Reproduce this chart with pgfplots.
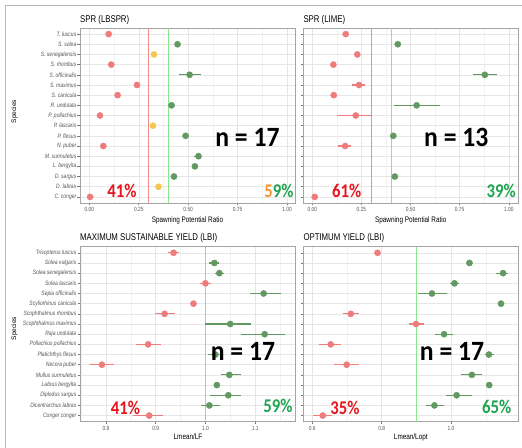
\documentclass[border=0pt]{standalone}
\usepackage{fontspec}
\setmainfont{Liberation Sans}
\newfontfamily\nar[FakeStretch=0.8]{Liberation Sans}
\newfontfamily\carl[FakeStretch=0.92]{Carlito}
\newfontfamily\carlp[FakeStretch=0.86]{Carlito}
\usepackage{pgfplots}
\pgfplotsset{compat=1.18}
\usepackage{pgfplotstable}
\definecolor{redpt}{RGB}{239,124,124}
\definecolor{greenpt}{RGB}{98,152,98}
\definecolor{yellowpt}{RGB}{243,200,82}
\definecolor{redline}{RGB}{240,140,140}
\definecolor{greenline}{RGB}{140,228,140}
\definecolor{pctred}{RGB}{230,22,30}
\definecolor{pctgreen}{RGB}{30,165,80}
\definecolor{pctorange}{RGB}{242,150,50}
\definecolor{gridmaj}{RGB}{230,230,230}
\definecolor{gridmin}{RGB}{242,242,242}
\definecolor{bordercol}{RGB}{165,165,165}
\definecolor{tickcol}{RGB}{120,120,120}
\definecolor{labcol}{RGB}{85,85,85}

\pgfplotstableread{
y x em ep
17 0.098 0 0
14 0.111 0 0
12 0.241 0 0
11 0.143 0 0
9 0.054 0 0
6 0.071 0 0
1 0.004 0 0
}\pAred
\pgfplotstableread{
y x em ep
16 0.446 0 0
13 0.507 0.052 0.060
10 0.416 0 0
7 0.487 0 0
5 0.552 0.022 0.018
4 0.534 0 0
3 0.428 0 0
}\pAgreen
\pgfplotstableread{
y x em ep
15 0.327 0 0
8 0.322 0 0
2 0.350 0 0
}\pAyellow
\pgfplotstableread{
y x em ep
17 0.170 0 0
15 0.229 0 0
14 0.107 0 0
12 0.238 0.038 0.032
11 0.109 0 0
9 0.221 0.094 0.081
6 0.167 0.034 0.029
1 0.012 0 0
}\pBred
\pgfplotstableread{
y x em ep
16 0.435 0 0
13 0.878 0.061 0.064
10 0.531 0.115 0.119
7 0.412 0 0
3 0.420 0 0
}\pBgreen
\pgfplotstableread{
y x em ep
17 0.936 0.011 0.011
14 1.000 0.011 0.012
12 0.976 0.006 0.006
11 0.918 0.019 0.020
8 0.885 0.025 0.026
6 0.792 0.024 0.025
1 0.887 0.032 0.028
}\pCred
\pgfplotstableread{
y x em ep
16 1.018 0.010 0.010
15 1.028 0.009 0.009
13 1.117 0.028 0.035
10 1.050 0.050 0.041
9 1.119 0.048 0.041
7 1.020 0.015 0.013
5 1.048 0.016 0.023
4 1.023 0 0
3 1.046 0.037 0.026
2 1.008 0.016 0.021
}\pCgreen
\pgfplotstableread{
y x em ep
17 0.788 0 0
11 0.711 0.023 0.025
10 0.899 0.019 0.023
8 0.653 0.033 0.030
6 0.699 0.036 0.037
1 0.630 0.027 0.026
}\pDred
\pgfplotstableread{
y x em ep
16 1.053 0 0
15 1.150 0.020 0.015
14 1.010 0.012 0.012
13 0.945 0.039 0.044
12 1.144 0 0
9 0.980 0.026 0.027
7 1.109 0.011 0.016
5 1.060 0.032 0.030
4 1.110 0 0
3 1.016 0.031 0.044
2 0.952 0.025 0.029
}\pDgreen

\pgfplotsset{
  panel/.style={scale only axis, height=175bp,
    ymin=0.4, ymax=17.6, ytick={1,...,17},
    grid=both,
    major grid style={line width=0.45pt, draw=gridmaj},
    minor grid style={line width=0.3pt, draw=gridmin},
    axis line style={draw=bordercol, line width=0.9pt},
    tick style={draw=tickcol, line width=0.5pt},
    tick align=outside, major tick length=2.5bp, minor tick length=0pt,
    xtick pos=left, ytick pos=left,
    xticklabel style={font=\nar\fontsize{6.1}{7}\selectfont, text=labcol, inner sep=1.5bp},
    yticklabel style={font=\nar\itshape\fontsize{6.3}{7}\selectfont, text=labcol, inner sep=1bp},
  },
  pts/.style={only marks, color=#1, mark=*, mark size=3.1bp,
    mark options={draw=none, fill=#1},
    error bars/.cd, x dir=both, x explicit, error mark=none,
    error bar style={line width=1.2pt, color=#1, draw=#1}},
}

\begin{document}
\begin{tikzpicture}
\useasboundingbox (0bp,0bp) rectangle (522bp,448bp);
\draw[draw=black!28, line width=1.2bp] (5.5bp,0bp) -- (5.5bp,442.5bp) -- (522bp,442.5bp);

% Panel 1
\begin{axis}[panel, at={(80bp,245bp)}, anchor=south west, width=215bp,
  xmin=-0.047, xmax=1.04,
  xtick={0,0.25,0.5,0.75,1}, xticklabels={0.00,0.25,0.50,0.75,1.00},
  minor xtick={0.125,0.375,0.625,0.875},
  yticklabels={C. conger,D. labrax,D. sargus,L. bergylta,M. surmuletus,N. puber,P. flesus,P. lascaris,P. pollachius,R. undulata,S. canicula,S. maximus,S. officinalis,S. rhombus,S. senegalensis,S. solea,T. luscus}]
\addplot[draw=redline, line width=0.8pt] coordinates {(0.3,0.4) (0.3,17.6)};
\addplot[draw=greenline, line width=0.8pt] coordinates {(0.4,0.4) (0.4,17.6)};
\addplot[pts=redpt] table[x=x, y=y, x error minus=em, x error plus=ep]{\pAred};
\addplot[pts=greenpt] table[x=x, y=y, x error minus=em, x error plus=ep]{\pAgreen};
\addplot[pts=yellowpt] table[x=x, y=y, x error minus=em, x error plus=ep]{\pAyellow};
\end{axis}

% Panel 2
\begin{axis}[panel, at={(303.3bp,245bp)}, anchor=south west, width=214.7bp,
  xmin=-0.046, xmax=1.047,
  xtick={0,0.25,0.5,0.75,1}, xticklabels={0.00,0.25,0.50,0.75,1.00},
  minor xtick={0.125,0.375,0.625,0.875},
  yticklabel style={text opacity=0}]
\addplot[draw=redline, line width=0.8pt] coordinates {(0.3,0.4) (0.3,17.6)};
\addplot[draw=greenline, line width=0.8pt] coordinates {(0.4,0.4) (0.4,17.6)};
\addplot[pts=redpt] table[x=x, y=y, x error minus=em, x error plus=ep]{\pBred};
\addplot[pts=greenpt] table[x=x, y=y, x error minus=em, x error plus=ep]{\pBgreen};
\end{axis}

% Panel 3
\begin{axis}[panel, at={(80bp,26.3bp)}, anchor=south west, width=215bp,
  xmin=0.748, xmax=1.18,
  xtick={0.8,0.9,1.0,1.1}, xticklabels={0.8,0.9,1.0,1.1},
  minor xtick={0.75,0.85,0.95,1.05,1.15},
  yticklabels={Conger conger,Dicentrarchus labrax,Diplodus sargus,Labrus bergylta,Mullus surmuletus,Necora puber,Platichthys flesus,Pollachius pollachius,Raja undulata,Scophthalmus maximus,Scophthalmus rhombus,Scyliorhinus canicula,Sepia officinalis,Solea lascaris,Solea senegalensis,Solea vulgaris,Trisopterus luscus}]
\addplot[draw=greenline, line width=0.8pt] coordinates {(1.0,0.4) (1.0,17.6)};
\addplot[pts=redpt] table[x=x, y=y, x error minus=em, x error plus=ep]{\pCred};
\addplot[pts=greenpt] table[x=x, y=y, x error minus=em, x error plus=ep]{\pCgreen};
\end{axis}

% Panel 4
\begin{axis}[panel, at={(303.3bp,26.3bp)}, anchor=south west, width=214.7bp,
  xmin=0.574, xmax=1.193,
  xtick={0.6,0.8,1.0}, xticklabels={0.6,0.8,1.0},
  minor xtick={0.7,0.9,1.1},
  yticklabel style={text opacity=0}]
\addplot[draw=greenline, line width=0.8pt] coordinates {(0.9,0.4) (0.9,17.6)};
\addplot[pts=redpt] table[x=x, y=y, x error minus=em, x error plus=ep]{\pDred};
\addplot[pts=greenpt] table[x=x, y=y, x error minus=em, x error plus=ep]{\pDgreen};
\end{axis}

% titles
\node[anchor=base west, inner sep=0, font=\nar\fontsize{9.8}{11}\selectfont] at (80bp,425.5bp) {SPR (LBSPR)};
\node[anchor=base west, inner sep=0, font=\nar\fontsize{9.8}{11}\selectfont] at (303.3bp,425.5bp) {SPR (LIME)};
\node[anchor=base west, inner sep=0, font=\nar\fontsize{9.8}{11}\selectfont] at (80bp,207.5bp) {MAXIMUM SUSTAINABLE YIELD (LBI)};
\node[anchor=base west, inner sep=0, font=\nar\fontsize{9.8}{11}\selectfont] at (303.3bp,207.5bp) {OPTIMUM YIELD (LBI)};
% axis labels
\node[inner sep=0, font=\nar\fontsize{8}{9}\selectfont] at (187.5bp,228bp) {Spawning Potential Ratio};
\node[inner sep=0, font=\nar\fontsize{8}{9}\selectfont] at (410.7bp,228bp) {Spawning Potential Ratio};
\node[inner sep=0, font=\nar\fontsize{8}{9}\selectfont] at (188bp,11bp) {Lmean/LF};
\node[inner sep=0, font=\nar\fontsize{8}{9}\selectfont] at (410.8bp,10.5bp) {Lmean/Lopt};
\node[inner sep=0, rotate=90, font=\fontsize{6.6}{8}\selectfont] at (14.5bp,336.5bp) {Species};
\node[inner sep=0, rotate=90, font=\fontsize{6.6}{8}\selectfont] at (14.5bp,119.5bp) {Species};
% annotations
\node[inner sep=0, font=\carl\bfseries\fontsize{28}{30}\selectfont] at (247.5bp,311bp) {n = 17};
\node[inner sep=0, font=\carl\bfseries\fontsize{28}{30}\selectfont] at (456.3bp,311bp) {n = 13};
\node[inner sep=0, font=\carl\bfseries\fontsize{28}{30}\selectfont] at (243bp,97bp) {n = 17};
\node[inner sep=0, font=\carl\bfseries\fontsize{28}{30}\selectfont] at (452bp,97bp) {n = 17};
\node[inner sep=0, text=pctred, font=\carlp\bfseries\fontsize{19.5}{21}\selectfont] at (122bp,257.3bp) {41\%};
\node[inner sep=0, font=\carlp\bfseries\fontsize{19.5}{21}\selectfont] at (279bp,257.3bp) {\textcolor{pctorange}{5}\textcolor{pctgreen}{9\%}};
\node[inner sep=0, text=pctred, font=\carlp\bfseries\fontsize{19.5}{21}\selectfont] at (346.7bp,257.3bp) {61\%};
\node[inner sep=0, text=pctgreen, font=\carlp\bfseries\fontsize{19.5}{21}\selectfont] at (501.3bp,257.3bp) {39\%};
\node[inner sep=0, text=pctred, font=\carlp\bfseries\fontsize{19.5}{21}\selectfont] at (125.5bp,40bp) {41\%};
\node[inner sep=0, text=pctgreen, font=\carlp\bfseries\fontsize{19.5}{21}\selectfont] at (278bp,42bp) {59\%};
\node[inner sep=0, text=pctred, font=\carlp\bfseries\fontsize{19.5}{21}\selectfont] at (345bp,40.5bp) {35\%};
\node[inner sep=0, text=pctgreen, font=\carlp\bfseries\fontsize{19.5}{21}\selectfont] at (496.7bp,41bp) {65\%};
\end{tikzpicture}
\end{document}
